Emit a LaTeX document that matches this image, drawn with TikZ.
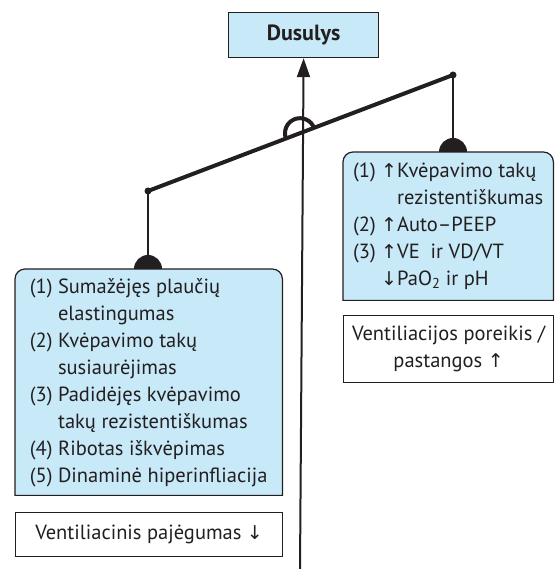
\documentclass[tikz,border=0pt]{standalone}
\usepackage{fontspec}
\setmainfont{PT Sans}
\newfontfamily\arrowfont{DejaVu Sans}
\usepackage{xcolor}
\usepackage{tikz}
\usetikzlibrary{arrows.meta,backgrounds,calc}

\definecolor{boxblue}{RGB}{200,233,248}
\definecolor{inkgray}{RGB}{35,31,32}
\newcommand{\upar}{{\arrowfont\fontsize{19}{19}\selectfont ↑}}
\newcommand{\downar}{{\arrowfont\fontsize{19}{19}\selectfont ↓}}
% box with rounded top corners only, drawn behind a named node
\newcommand{\tabbox}[1]{%
  \draw[boxline, fill=boxblue] (#1.south west) -- ([yshift=-10pt]#1.north west)
    arc[start angle=180, end angle=90, radius=10pt] -- ([xshift=-10pt]#1.north east)
    arc[start angle=90, end angle=0, radius=10pt] -- (#1.south east) -- cycle;}

\tikzset{
  txt/.style={inner sep=0pt, font=\fontsize{20.5}{27}\selectfont, text=inkgray},
  boxline/.style={draw=inkgray, line width=1.2pt},
  notebox/.style={txt, boxline, fill=white, align=center},
  hanger/.style={inkgray, line width=1.5pt},
  beam/.style={inkgray, line width=4pt},
}

\begin{document}
\begin{tikzpicture}[x=1pt,y=1pt]
\useasboundingbox (0,0) rectangle (556,569);
\node[txt, boxline, fill=boxblue, anchor=north west, minimum width=150, minimum height=45,
    font=\fontsize{22}{27}\selectfont\bfseries] (dus) at (228,557) {Dusulys};
\node[txt, anchor=north west, minimum width=267, minimum height=226] (lbox) at (15,300) {%
  \begin{tabular}{@{}l@{\ }l@{}}
  (1) & Sumažėjęs plaučių\\
      & elastingumas\\
  (2) & Kvėpavimo takų\\
      & susiaurėjimas\\
  (3) & Padidėjęs kvėpavimo\\
      & takų rezistentiškumas\\
  (4) & Ribotas iškvėpimas\\
  (5) & Dinaminė hiperinfliacija
  \end{tabular}};
\node[txt, anchor=north west, minimum width=210, minimum height=148] (rbox) at (343,417) {%
  \begin{tabular}{@{}l@{\ }l@{}l@{}}
  (1) & \upar & Kvėpavimo takų\\
      &       & rezistentiškumas\\
  (2) & \upar & Auto–PEEP\\
  (3) & \upar & VE\ \ ir VD/VT\\
      & \downar & PaO\textsubscript{2} ir pH
  \end{tabular}};
\node[notebox, anchor=north west, minimum width=267, minimum height=44] (lnote) at (15,57)
    {Ventiliacinis pajėgumas \downar};
\node[notebox, anchor=north west, minimum width=210, minimum height=67] (rnote) at (343,254)
    {Ventiliacijos poreikis /\\pastangos \upar};
\begin{scope}[on background layer]
\tabbox{lbox}
\tabbox{rbox}
\end{scope}

\coordinate (lend) at (148,378);
\coordinate (rend) at (453,494);
\coordinate (pivot) at ($(lend)!{152/305}!(rend)$);
\coordinate (base) at (300,0);

\draw[hanger] (lend) -- (lend |- lbox.north);
\draw[hanger] (rend) -- (rend |- rbox.north);
\fill[inkgray] ($(lend |- lbox.north)+(-14,0)$) arc[start angle=180, end angle=0, radius=14pt] -- cycle;
\fill[inkgray] ($(rend |- rbox.north)+(-14,0)$) arc[start angle=180, end angle=0, radius=14pt] -- cycle;
\draw[beam] (lend) -- (rend);
\fill[inkgray] (lend) circle[radius=3.5pt];
\fill[inkgray] (rend) circle[radius=3.5pt];
\draw[beam] ($(pivot)+(200.8:15)$) arc[start angle=200.8, end angle=20.8, radius=15pt];
\draw[inkgray, line width=2pt, -{Triangle[length=19pt, width=13pt]}] (base) -- (dus.south);
\end{tikzpicture}
\end{document}
